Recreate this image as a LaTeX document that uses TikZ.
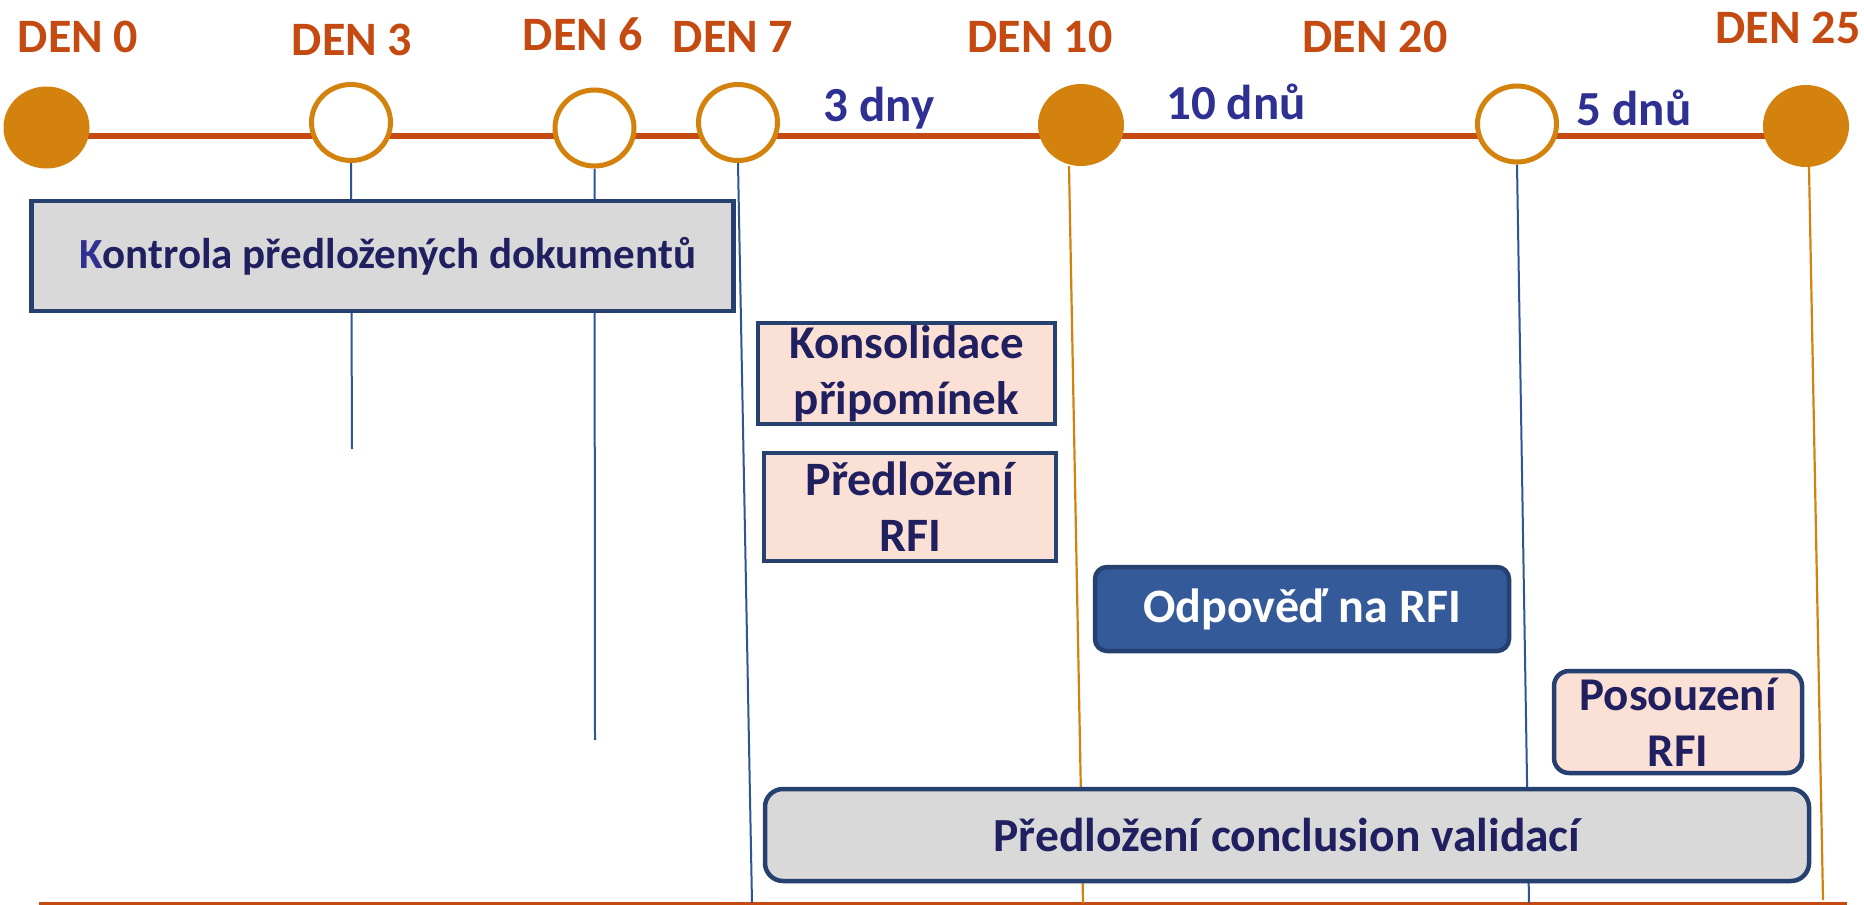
\documentclass[tikz,border=0pt]{standalone}
\usepackage{fontspec}
\setmainfont{Carlito}
\usetikzlibrary{shapes.geometric,backgrounds}

\definecolor{axisline}{RGB}{197,74,17}
\definecolor{gold}{RGB}{212,130,14}
\definecolor{daylabel}{RGB}{197,74,17}
\definecolor{spanblue}{RGB}{46,49,146}
\definecolor{navytext}{RGB}{32,32,96}
\definecolor{boxedge}{RGB}{38,64,112}
\definecolor{greyfill}{RGB}{217,217,217}
\definecolor{peachfill}{RGB}{251,225,213}
\definecolor{answerfill}{RGB}{52,90,153}
\definecolor{tickblue}{RGB}{47,85,151}

\begin{document}
\begin{tikzpicture}[x=1pt,y=-1pt,
  fullday/.style={ellipse, inner sep=0pt, fill=gold, minimum width=86pt, minimum height=82pt},
  openday/.style={ellipse, inner sep=0pt, fill=white, draw=gold, line width=5pt, minimum width=79pt, minimum height=76pt},
  daytext/.style={anchor=base, text=daylabel, font=\fontsize{48}{56}\selectfont\bfseries},
  spantext/.style={anchor=base, text=spanblue, font=\fontsize{49}{56}\selectfont\bfseries},
  taskbox/.style={draw=boxedge, line width=4.5pt, inner sep=0pt, align=center, text=navytext,
                  font=\fontsize{47}{56}\selectfont\bfseries},
  greybox/.style={taskbox, fill=greyfill},
  peachbox/.style={taskbox, fill=peachfill},
  tickline/.style={draw=tickblue, line width=2pt},
  goldline/.style={draw=gold, line width=2.2pt},
]
\useasboundingbox (0,0) rectangle (1864,905);

% milestones on the time axis
\node[fullday] (d0)  at (46.5,127.5) {};
\node[openday] (d3)  at (351,122.5) {};
\node[openday] (d6)  at (594.5,128) {};
\node[openday] (d7)  at (738,122.5) {};
\node[fullday] (d10) at (1081,125) {};
\node[openday] (d20) at (1517,124) {};
\node[fullday] (d25) at (1806,126) {};

% day captions
\node[daytext] (t0)  at (78,52)   {DEN 0};
\node[daytext] (t3)  at (352,55)  {DEN 3};
\node[daytext] (t6)  at (583,50)  {DEN 6};
\node[daytext] (t7)  at (733,52)  {DEN 7};
\node[daytext] (t10) at (1040,52) {DEN 10};
\node[daytext] (t20) at (1375,52) {DEN 20};
\node[daytext] (t25) at (1788,43) {DEN 25};

% durations between milestones
\node[spantext] (s1) at (879,121)  {3 dny};
\node[spantext] (s2) at (1236,119) {10 dnů};
\node[spantext] (s3) at (1634,125) {5 dnů};

% activities
\node[greybox, minimum width=702pt, minimum height=110pt, font=\fontsize{43}{54}\selectfont\bfseries]
  (kontrola) at (382.6,256) {\hspace*{10pt}{\color{spanblue}K}ontrola předložených dokumentů};
\node[peachbox, minimum width=297pt, minimum height=101pt] (konsol) at (906.5,373.5)
  {Konsolidace\\připomínek};
\node[peachbox, minimum width=292pt, minimum height=108pt, font=\fontsize{48}{56}\selectfont\bfseries] (rfi) at (910,507)
  {Předložení\\RFI};
\node[taskbox, fill=answerfill, text=white, rounded corners=12pt, minimum width=414pt, minimum height=84pt,
      font=\fontsize{48}{56}\selectfont\bfseries]
  (odpoved) at (1302,609) {Odpověď na RFI};
\node[peachbox, rounded corners=15pt, minimum width=248pt, minimum height=102pt] (posouzeni) at (1678,722)
  {Posouzení\\RFI};
\node[greybox, rounded corners=18pt, minimum width=1044pt, minimum height=92pt, font=\fontsize{47.5}{54}\selectfont\bfseries]
  (conclusion) at (1287,835) {Předložení conclusion validací};

% free ends of the lines
\coordinate (axisL) at (46,136);
\coordinate (axisR) at (1806,136);
\coordinate (baseL) at (39,903.5);
\coordinate (baseR) at (1847,903.5);
\coordinate (e3)  at (352,449);
\coordinate (e6)  at (595,740);
\coordinate (e7)  at (752,903);
\coordinate (e10) at (1083,903);
\coordinate (e20) at (1529,903);
\coordinate (e25) at (1823,900);

\begin{scope}[on background layer]
  \fill[white] (0,0) rectangle (1864,905);
  \draw[draw=axisline, line width=5.5pt] (axisL) -- (axisR);
  \draw[draw=axisline, line width=2.5pt] (baseL) -- (baseR);
  \draw[tickline] (d3.south) -- (e3);
  \draw[tickline] (d6.south) -- (e6);
  \draw[tickline] (d7.south) -- (e7);
  \draw[goldline] ([xshift=-12pt]d10.south) -- (e10);
  \draw[tickline] (d20.south) -- (e20);
  \draw[goldline] ([xshift=3pt]d25.south) -- (e25);
\end{scope}
\end{tikzpicture}
\end{document}
